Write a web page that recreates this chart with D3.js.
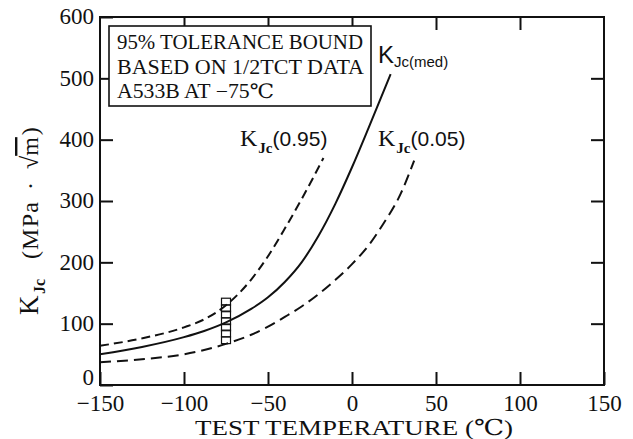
<!DOCTYPE html>
<html>
<head>
<meta charset="utf-8">
<script src="https://cdn.jsdelivr.net/npm/d3@7"></script>
<style>
  html, body { margin: 0; padding: 0; background: #fff; }
  svg { display: block; }
  .serif { font-family: "Liberation Serif", "DejaVu Serif", "Noto Sans CJK SC", serif; }
  .sans { font-family: "Liberation Sans", Arial, "DejaVu Sans", sans-serif; }
</style>
</head>
<body>
<svg id="chart" width="633" height="439"></svg>
<script>
// Test temperature (°C) and fracture toughness K_Jc (MPa·√m)
const medTemp  = [-150, -125, -100, -88, -75, -60, -50, -40, -30, -20, -10, 0, 10, 23];
const medK     = [50, 62, 78, 88, 102, 124, 143, 168, 200, 243, 295, 355, 420, 507];

const upperTemp = [-150, -125, -100, -88, -75, -60, -50, -40, -30, -17];
const upperK    = [64, 76, 94, 107, 130, 172, 210, 255, 303, 370];

const lowerTemp = [-150, -125, -100, -88, -75, -60, -50, -40, -30, -20, -10, 0, 10, 18, 29, 37];
const lowerK    = [37, 42, 50, 57, 67, 82, 95, 111, 128, 148, 171, 197, 228, 260, 312, 366];

// 1/2T C(T) specimens tested at -75 °C
const testTemp = -75;
const testK    = [73, 84, 94, 104, 115, 125, 136];

const xTicks = [-150, -100, -50, 0, 50, 100, 150];
const yTicks = [0, 100, 200, 300, 400, 500, 600];

const noteLines = ["95% TOLERANCE BOUND", "BASED ON 1/2TCT DATA", "A533B AT −75℃"];

const svg = d3.select("#chart");
const x = d3.scaleLinear().domain([-150, 150]).range([100, 604]);
const y = d3.scaleLinear().domain([0, 600]).range([385, 17]);

const fmt = d => d < 0 ? "−" + Math.abs(d) : String(d);
const ink = "#111";

// Frame
svg.append("rect")
  .attr("x", x(-150)).attr("y", y(600))
  .attr("width", x(150) - x(-150)).attr("height", y(0) - y(600))
  .attr("fill", "none").attr("stroke", ink).attr("stroke-width", 2);

// Axes with inward ticks
const tickLen = 13;
const gB = svg.append("g").attr("transform", `translate(0,${y(0)})`)
  .call(d3.axisBottom(x).tickValues(xTicks).tickSize(-tickLen).tickPadding(9).tickFormat(fmt));
const gT = svg.append("g").attr("transform", `translate(0,${y(600)})`)
  .call(d3.axisTop(x).tickValues(xTicks.slice(1, -1)).tickSize(-tickLen).tickFormat(""));
const gL = svg.append("g").attr("transform", `translate(${x(-150)},0)`)
  .call(d3.axisLeft(y).tickValues(yTicks).tickSize(-tickLen).tickPadding(6).tickFormat(fmt));
const gR = svg.append("g").attr("transform", `translate(${x(150)},0)`)
  .call(d3.axisRight(y).tickValues(yTicks.slice(1, -1)).tickSize(-tickLen).tickFormat(""));

[gB, gT, gL, gR].forEach(g => {
  g.select(".domain").remove();
  g.selectAll(".tick line").attr("stroke", ink).attr("stroke-width", 2);
  g.selectAll("text").attr("class", "serif").attr("font-size", 23).attr("fill", ink);
});
gB.selectAll("text").attr("dy", "0.72em");
gL.selectAll("text").attr("dy", d => d === 0 ? "-0.03em" : "0.3em");

// Curves
const line = d3.line().x(d => x(d[0])).y(d => y(d[1])).curve(d3.curveMonotoneX);
const zip = (a, b) => a.map((t, i) => [t, b[i]]);

svg.append("path").datum(zip(medTemp, medK))
  .attr("d", line).attr("fill", "none").attr("stroke", ink).attr("stroke-width", 2);
svg.append("path").datum(zip(upperTemp, upperK))
  .attr("d", line).attr("fill", "none").attr("stroke", ink).attr("stroke-width", 2)
  .attr("stroke-dasharray", "9,5");
svg.append("path").datum(zip(lowerTemp, lowerK))
  .attr("d", line).attr("fill", "none").attr("stroke", ink).attr("stroke-width", 2)
  .attr("stroke-dasharray", "11,6");

// Test data markers
const cellH = y(testK[0]) - y(testK[1]);
svg.append("g").selectAll("rect").data(testK).join("rect")
  .attr("x", x(testTemp) - 4.5)
  .attr("y", d => y(d) - cellH / 2)
  .attr("width", 9).attr("height", cellH)
  .attr("fill", "none").attr("stroke", ink).attr("stroke-width", 1.2);

// Note box
svg.append("rect")
  .attr("x", 109).attr("y", 26).attr("width", 262).attr("height", 80)
  .attr("fill", "#fff").attr("stroke", ink).attr("stroke-width", 1.6);
const noteY = [49, 74, 98];
const noteW = [246, 247, 157];
svg.append("g").selectAll("text").data(noteLines).join("text")
  .attr("class", "serif").attr("font-size", 20).attr("fill", ink)
  .attr("x", 117).attr("y", (d, i) => noteY[i])
  .attr("textLength", (d, i) => noteW[i]).attr("lengthAdjust", "spacingAndGlyphs")
  .text(d => d);

// Curve labels
function kLabel(xk, yb, suffix, sansK) {
  const t = svg.append("text").attr("x", xk).attr("y", yb).attr("fill", ink);
  if (sansK) {
    t.append("tspan").attr("class", "sans").attr("font-size", 24).text("K");
    t.append("tspan").attr("class", "sans").attr("font-size", 15).attr("dy", 4).text("Jc" + suffix);
  } else {
    t.append("tspan").attr("class", "serif").attr("font-size", 24).text("K");
    t.append("tspan").attr("class", "serif").attr("font-size", 15).attr("font-weight", "bold")
      .attr("dy", 7).attr("dx", 1).text("Jc");
    t.append("tspan").attr("class", "sans").attr("font-size", 21).attr("dy", -7).text(suffix);
  }
}
kLabel(378, 63, "(med)", true);
kLabel(240, 146, "(0.95)", false);
kLabel(378, 146, "(0.05)", false);

// Axis titles
svg.append("text").attr("class", "serif").attr("font-size", 22).attr("fill", ink)
  .attr("x", 195).attr("y", 435).attr("textLength", 318).attr("lengthAdjust", "spacingAndGlyphs")
  .text("TEST TEMPERATURE (℃)");

const yt = svg.append("text").attr("class", "serif").attr("fill", ink)
  .attr("transform", "translate(38,315) rotate(-90)").attr("x", 0).attr("y", 0);
yt.append("tspan").attr("font-size", 27).attr("x", 0).text("K");
yt.append("tspan").attr("font-size", 16).attr("font-weight", "bold").attr("dy", 7).attr("x", 21).text("Jc");
yt.append("tspan").attr("font-size", 24).attr("dy", -7).attr("x", 56).text("(");
yt.append("tspan").attr("font-size", 24).attr("x", 65).attr("textLength", 48).text("MPa");
yt.append("tspan").attr("font-size", 24).attr("x", 125).text("·");
yt.append("tspan").attr("font-size", 24).attr("x", 146).text("√");
yt.append("tspan").attr("font-size", 24).attr("text-decoration", "overline").text("m");
yt.append("tspan").attr("font-size", 24).attr("dx", 2).text(")");
</script>
</body>
</html>
